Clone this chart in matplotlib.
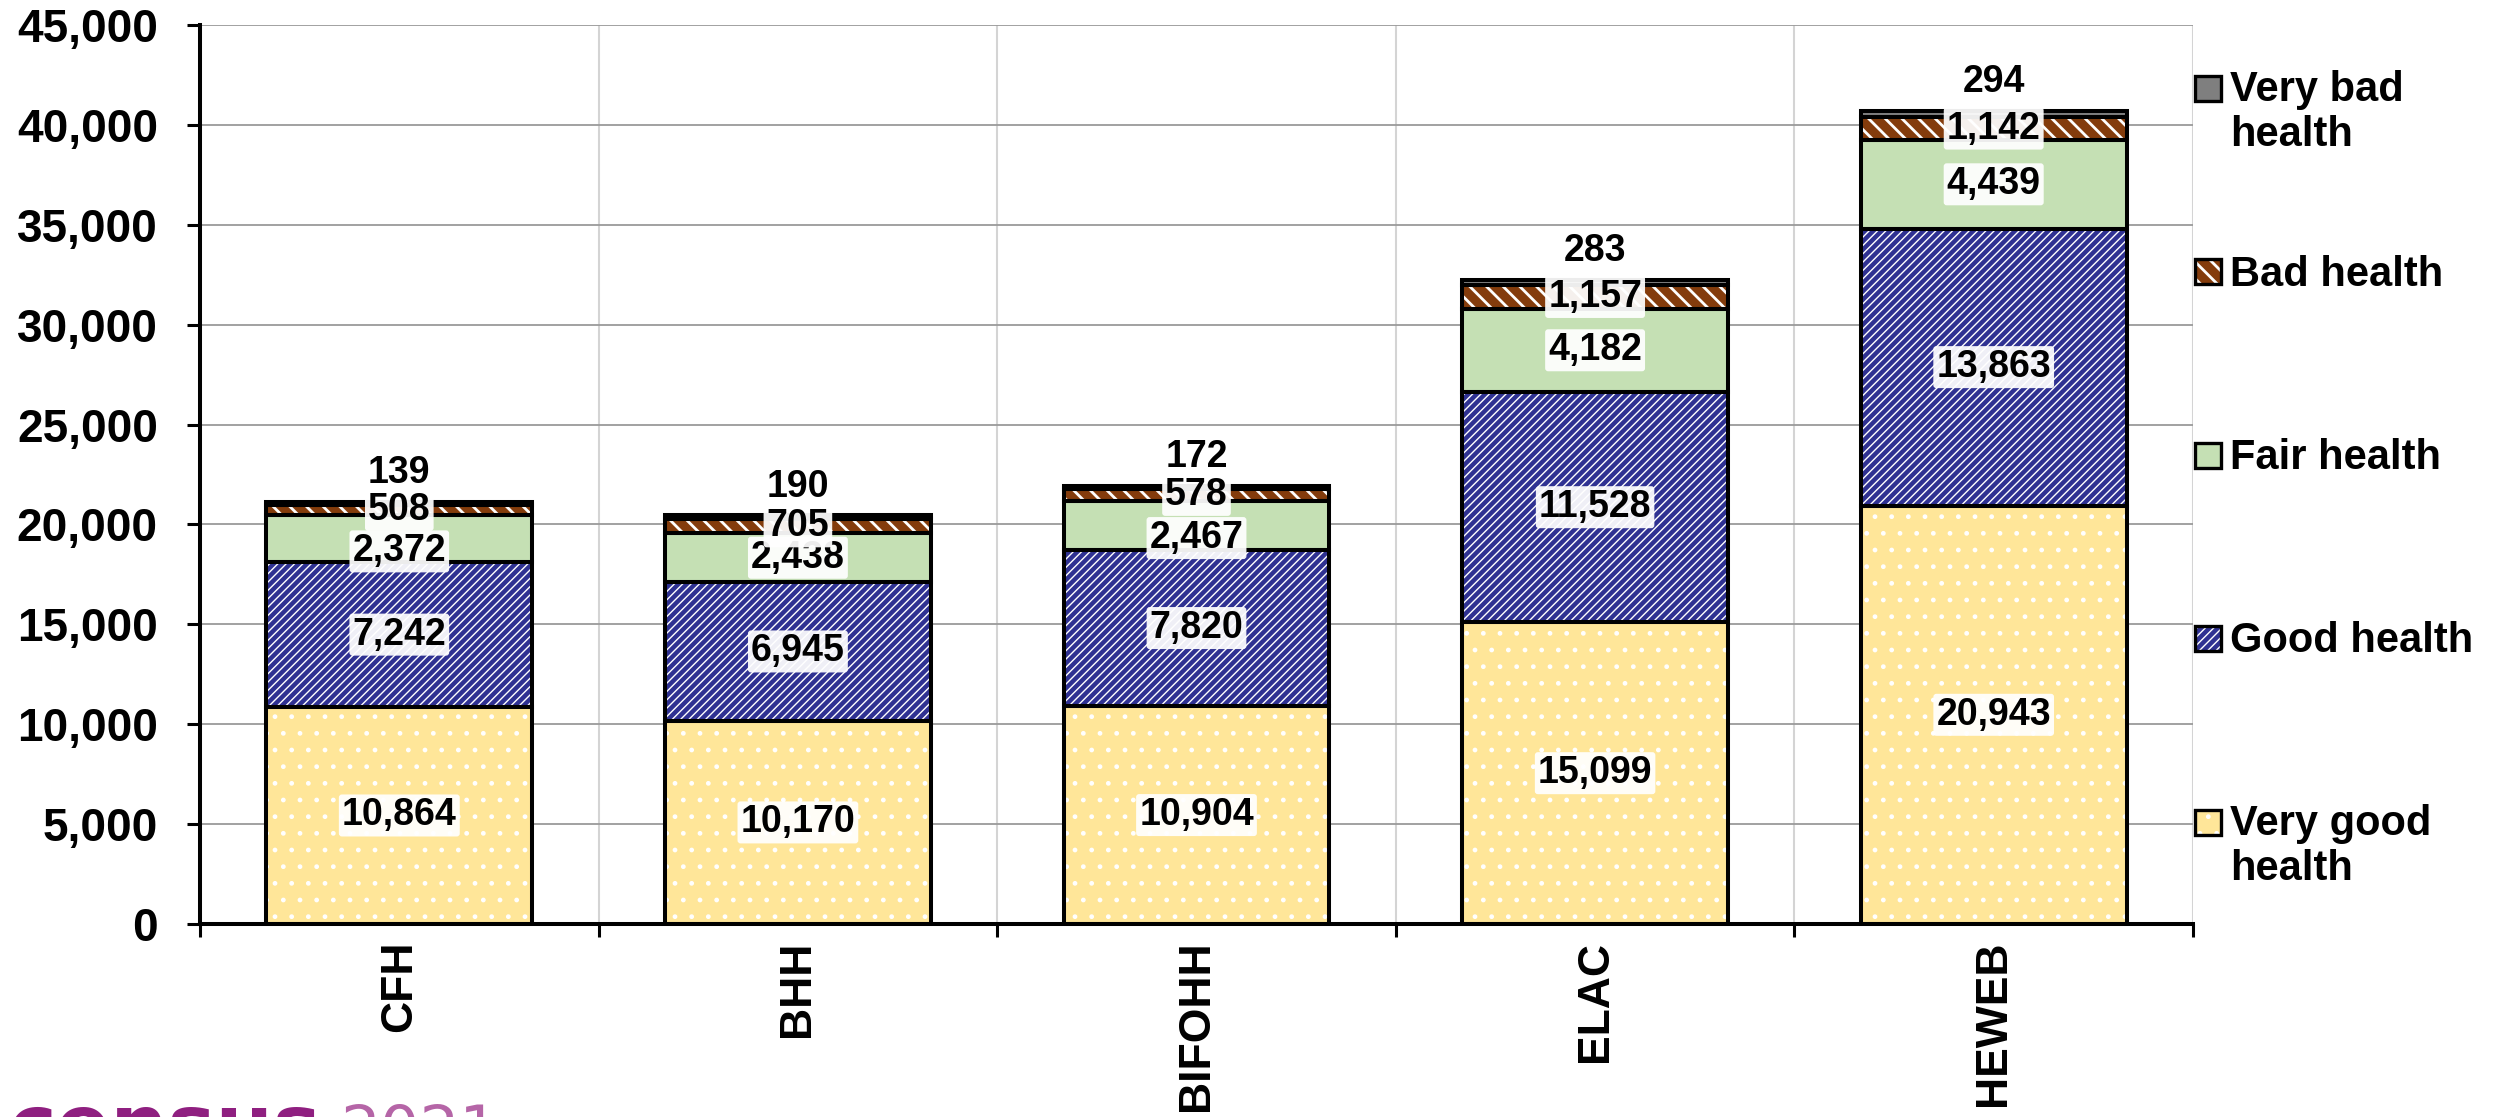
import matplotlib.pyplot as plt
import matplotlib as mpl
from matplotlib.patches import Rectangle
from matplotlib.ticker import FuncFormatter, FixedLocator
import numpy as np

# --- Data ---
areas = ["CFH", "BHH", "BIFOHH", "ELAC", "HEWEB"]
very_good = [10864, 10170, 10904, 15099, 20943]
good = [7242, 6945, 7820, 11528, 13863]
fair = [2372, 2438, 2467, 4182, 4439]
bad = [508, 705, 578, 1157, 1142]
very_bad = [139, 190, 172, 283, 294]

# --- Styles (bottom to top) ---
series = [
    {"values": very_good, "label": "Very good\nhealth", "face": "#FFE699", "hatch": ".", "hcolor": "white", "hlw": 1.0},
    {"values": good, "label": "Good health", "face": "#2F3192", "hatch": "////", "hcolor": "white", "hlw": 1.0},
    {"values": fair, "label": "Fair health", "face": "#C5E0B4", "hatch": None, "hcolor": "#C5E0B4", "hlw": 1.0},
    {"values": bad, "label": "Bad health", "face": "#843C0C", "hatch": "\\\\", "hcolor": "white", "hlw": 2.0},
    {"values": very_bad, "label": "Very bad\nhealth", "face": "#7F7F7F", "hatch": None, "hcolor": "#7F7F7F", "hlw": 1.0},
]

plt.rcParams['font.family'] = ['Liberation Sans', 'DejaVu Sans']
plt.rcParams['font.weight'] = 'bold'

W, H = 2497, 1117
fig = plt.figure(figsize=(W / 100, H / 100), dpi=100)
ax = fig.add_axes([200 / W, (H - 924) / H, 1993 / W, 899 / H])

x = np.arange(len(areas))
bar_w = 0.667
edge_lw = 2.9
bottom = np.zeros(len(areas))

for s in series:
    vals = np.array(s["values"], dtype=float)
    mpl.rcParams['hatch.linewidth'] = s["hlw"]
    # filled / hatched part (hatch colour = edgecolor)
    ax.bar(x, vals, bar_w, bottom=bottom, color=s["face"], edgecolor=s["hcolor"],
           hatch=s["hatch"], linewidth=0, zorder=2)
    # black outline on top
    ax.bar(x, vals, bar_w, bottom=bottom, fill=False, edgecolor='black',
           linewidth=edge_lw, zorder=3)
    bottom = bottom + vals

# --- Data labels ---
label_box = dict(boxstyle='round,pad=0.08', facecolor='white', edgecolor='none', alpha=0.93)
centers = []
bottom = np.zeros(len(areas))
for s in series:
    vals = np.array(s["values"], dtype=float)
    centers.append(bottom + vals / 2)
    bottom = bottom + vals
totals = bottom

for k, s in enumerate(series[:-1]):
    for i, v in enumerate(s["values"]):
        y = centers[k][i]
        # Excel nudges the fair-health label down when it crowds the bad-health one
        if k == 2 and centers[3][i] - y < 1550:
            y -= 640
        ax.text(x[i], y, f"{v:,}", ha='center', va='center',
                fontsize=27, fontweight='bold', bbox=label_box, zorder=5 + k)
for i, v in enumerate(very_bad):
    ax.text(x[i], totals[i] + 1450, f"{v:,}", ha='center', va='center',
            fontsize=27, fontweight='bold', zorder=10)

# --- Axes ---
ax.set_xlim(-0.5, len(areas) - 0.5)
ax.set_ylim(0, 45000)
ax.set_yticks(np.arange(0, 45001, 5000))
ax.yaxis.set_major_formatter(FuncFormatter(lambda v, p: f"{v:,.0f}"))
ax.set_xticks(x)
ax.set_xticklabels(areas, rotation=90, fontsize=32, fontweight='bold', va='top')
ax.xaxis.set_minor_locator(FixedLocator(np.arange(-0.5, len(areas), 1.0)))

ax.tick_params(axis='y', direction='out', length=9.4, width=2.2, labelsize=33, pad=21)
ax.tick_params(axis='x', which='major', length=0, pad=12)
ax.tick_params(axis='x', which='minor', direction='out', length=9.4, width=2.2)

for side in ['top', 'right']:
    ax.spines[side].set_visible(False)
for side in ['left', 'bottom']:
    ax.spines[side].set_linewidth(edge_lw)

ax.set_axisbelow(True)
ax.grid(True, axis='y', which='major', color='#9A9A9A', linewidth=1.3)
ax.grid(True, axis='x', which='minor', color='#D4D4D4', linewidth=1.5)
ax.grid(False, axis='x', which='major')

# --- Legend (drawn by hand, Excel style, top to bottom) ---
line_gap = 44  # px between label lines
for i, s in enumerate(series[::-1]):
    cy = 88 + 183.5 * i
    mpl.rcParams['hatch.linewidth'] = s["hlw"]
    fig.add_artist(Rectangle((2195 / W, 1 - (cy + 12.5) / H), 26 / W, 25 / H,
                             transform=fig.transFigure, facecolor=s["face"],
                             edgecolor=s["hcolor"], hatch=s["hatch"], linewidth=0))
    fig.add_artist(Rectangle((2195 / W, 1 - (cy + 12.5) / H), 26 / W, 25 / H,
                             transform=fig.transFigure, fill=False,
                             edgecolor='black', linewidth=2.4))
    # baseline alignment uses the last line, so shift by the extra lines
    n_extra = s["label"].count("\n")
    fig.text(2230 / W, 1 - (cy + 14 + n_extra * line_gap) / H, s["label"], fontsize=30,
             fontweight='bold', va='baseline', ha='left', linespacing=1.16)

# --- Census 2021 logo (cut off at bottom edge) ---
fig.text(8 / W, 1 - 1152 / H, "census", color='#8F1F80', fontsize=58,
         fontweight='bold', family='DejaVu Sans', va='baseline')
fig.text(340 / W, 1 - 1150 / H, "2021", color='#B565A7', fontsize=45,
         fontweight='normal', family='DejaVu Sans', va='baseline')

plt.savefig('out.png', dpi=100)
plt.close()
